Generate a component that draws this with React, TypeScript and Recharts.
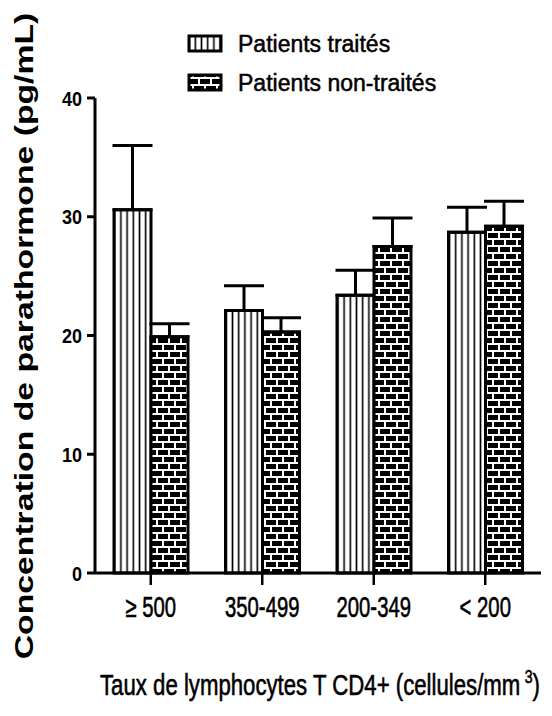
import React from 'react';
import { BarChart, Bar, XAxis, YAxis, ErrorBar } from 'recharts';

const categories = ['≥ 500', '350-499', '200-349', '< 200'];
const treated = [30.6, 22.1, 23.4, 28.7];
const treatedErr = [5.4, 2.1, 2.1, 2.1];
const untreated = [19.9, 20.3, 27.5, 29.2];
const untreatedErr = [1.1, 1.2, 2.4, 2.1];
const yTicks = [0, 10, 20, 30, 40];
const seriesNames = ['Patients traités', 'Patients non-traités'];

const data = categories.map((c, i) => ({
  cat: c,
  t: treated[i],
  tErr: [0, treatedErr[i]],
  u: untreated[i],
  uErr: [0, untreatedErr[i]],
}));

const FONT = '"Liberation Sans", Arial, Helvetica, sans-serif';

const XTick = (props: any) => {
  const { x, payload } = props;
  return (
    <text
      transform={`translate(${x},617) scale(0.7,1)`}
      textAnchor="middle"
      fontFamily={FONT}
      fontSize={29}
      fill="#000"
      stroke="#000"
      strokeWidth={0.6}
    >
      {payload.value}
    </text>
  );
};

const YTick = (props: any) => {
  const { x, y, payload } = props;
  return (
    <text
      transform={`translate(${x},${y}) scale(0.86,1)`}
      dy="0.36em"
      textAnchor="end"
      fontFamily={FONT}
      fontWeight="bold"
      fontSize={21}
      fill="#000"
    >
      {payload.value}
    </text>
  );
};

export default function App() {
  return (
    <div style={{ position: 'absolute', left: 0, top: 0, width: 552, height: 716, background: '#fff' }}>
      <BarChart
        width={552}
        height={716}
        data={data}
        margin={{ top: 98, right: 11, bottom: 113, left: 35 }}
        barGap={0}
        barCategoryGap={19}
      >
        <defs>
          <pattern id="stripes" patternUnits="userSpaceOnUse" width={6.2} height={10}>
            <rect x={0} y={0} width={6.2} height={10} fill="#fff" />
            <rect x={2.3} y={0} width={1.6} height={10} fill="#000" />
          </pattern>
          <pattern id="bricks" patternUnits="userSpaceOnUse" width={12} height={14}>
            <rect x={0} y={0} width={12} height={14} fill="#000" />
            <rect x={0} y={0} width={12} height={2} fill="#fff" />
            <rect x={0} y={7} width={12} height={2} fill="#fff" />
            <rect x={0} y={2} width={2} height={5} fill="#fff" />
            <rect x={6} y={9} width={2} height={5} fill="#fff" />
          </pattern>
        </defs>
        <XAxis
          dataKey="cat"
          tick={<XTick />}
          tickSize={12}
          height={30}
          axisLine={{ stroke: '#000', strokeWidth: 3 }}
          tickLine={{ stroke: '#000', strokeWidth: 2.5 }}
          interval={0}
        />
        <YAxis
          domain={[0, 40]}
          ticks={yTicks}
          width={60}
          tickSize={8}
          tickMargin={5}
          tick={<YTick />}
          axisLine={{ stroke: '#000', strokeWidth: 3 }}
          tickLine={{ stroke: '#000', strokeWidth: 3 }}
        />
        <Bar dataKey="t" name={seriesNames[0]} fill="url(#stripes)" stroke="#000" strokeWidth={3} barSize={37} isAnimationActive={false}>
          <ErrorBar dataKey="tErr" width={20} stroke="#000" strokeWidth={3} direction="y" />
        </Bar>
        <Bar dataKey="u" name={seriesNames[1]} fill="url(#bricks)" stroke="#000" strokeWidth={3} barSize={37} isAnimationActive={false}>
          <ErrorBar dataKey="uErr" width={20} stroke="#000" strokeWidth={3} direction="y" />
        </Bar>
        <g>
          <rect x={189} y={36} width={32} height={15} fill="url(#stripes)" stroke="#000" strokeWidth={3} />
          <text x={238} y={52} fontFamily={FONT} fontSize={23} fill="#000" stroke="#000" strokeWidth={0.5}>{seriesNames[0]}</text>
          <rect x={189} y={75} width={32} height={15} fill="url(#bricks)" stroke="#000" strokeWidth={3} />
          <text x={238} y={91} fontFamily={FONT} fontSize={23} fill="#000" stroke="#000" strokeWidth={0.5}>{seriesNames[1]}</text>
        </g>
        <text
          transform="translate(33,336) rotate(-90) scale(1.35,1)"
          textAnchor="middle"
          fontFamily={FONT}
          fontWeight="bold"
          fontSize={25}
          fill="#000"
        >
          Concentration de parathormone (pg/mL)
        </text>
        <text
          transform="translate(320,695) scale(0.74,1)"
          textAnchor="middle"
          fontFamily={FONT}
          fontSize={30}
          fill="#000"
          stroke="#000"
          strokeWidth={0.6}
        >
          Taux de lymphocytes T CD4+ (cellules/mm<tspan dx={6} dy={-12} fontSize={19}>3</tspan><tspan dy={12}>)</tspan>
        </text>
      </BarChart>
    </div>
  );
}
